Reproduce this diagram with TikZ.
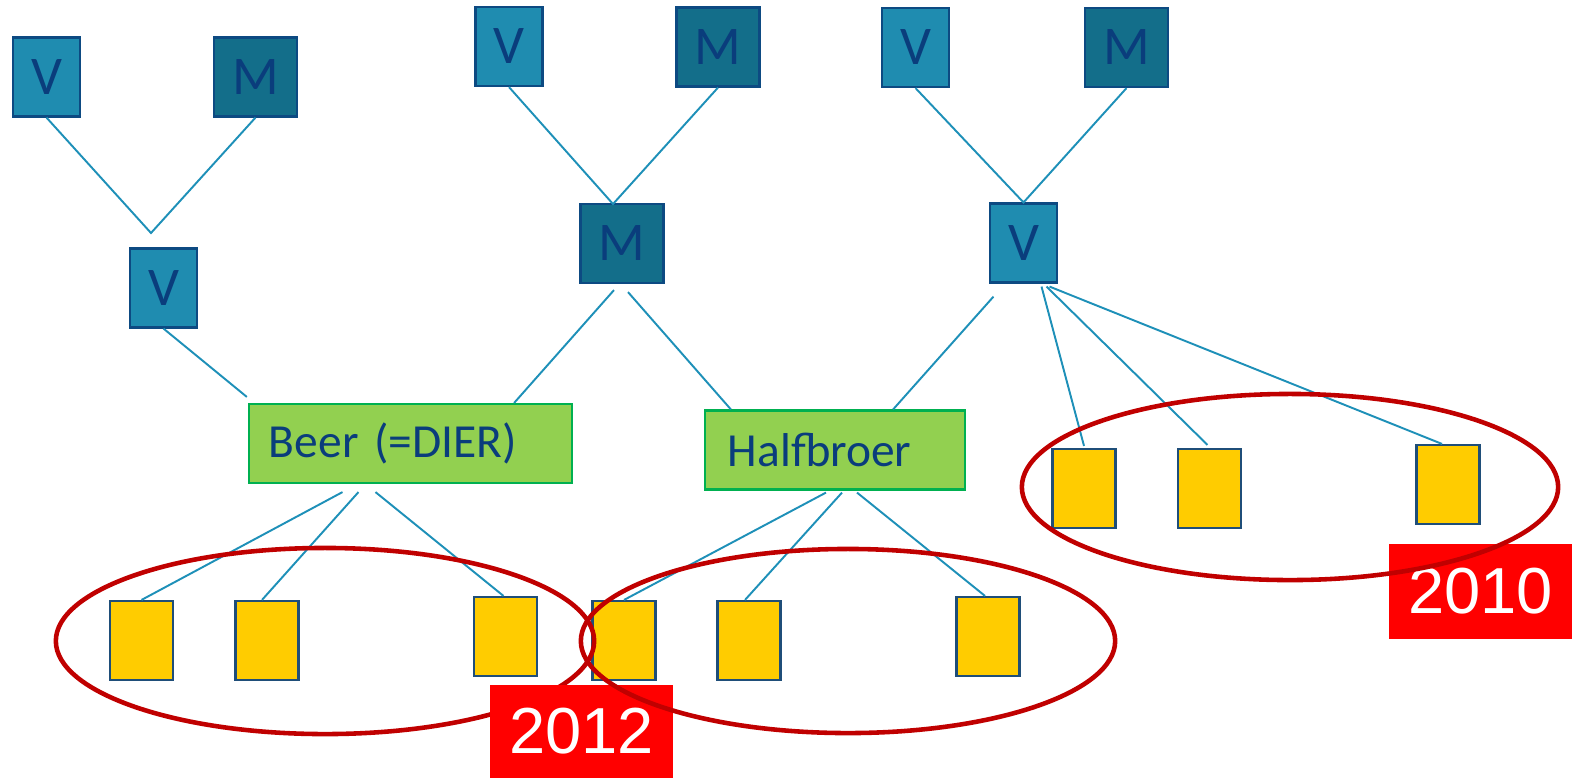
\documentclass[tikz,border=0pt]{standalone}
\usepackage{fontspec}
\setmainfont{Carlito}
\newfontfamily\yearfont{Liberation Sans}
\definecolor{vblue}{HTML}{1F8CB0}
\definecolor{mblue}{HTML}{136E8A}
\definecolor{edgeblue}{HTML}{0D4A82}
\definecolor{textblue}{HTML}{0A3D7C}
\definecolor{linkblue}{HTML}{1E90B8}
\definecolor{kidgreen}{HTML}{92D050}
\definecolor{kidborder}{HTML}{00B050}
\definecolor{pupyellow}{HTML}{FFCC00}
\definecolor{pupborder}{HTML}{1F4E79}
\definecolor{ringred}{HTML}{C00000}

\begin{document}
\begin{tikzpicture}[x=0.01cm,y=-0.01cm,
  dog/.style={draw=edgeblue,line width=0.6pt,text=textblue,inner sep=0pt,
    minimum height=0.79cm,font=\fontsize{15.5}{18}\selectfont},
  male/.style={dog,fill=vblue,minimum width=0.67cm},
  female/.style={dog,fill=mblue,minimum width=0.83cm},
  litter/.style={draw=kidborder,fill=kidgreen,text=textblue,line width=0.6pt,
    minimum height=0.79cm,inner ysep=0pt,align=left,font=\fontsize{13.5}{16}\selectfont},
  pup/.style={draw=pupborder,fill=pupyellow,line width=0.6pt,inner sep=0pt,
    minimum width=0.63cm,minimum height=0.79cm},
  link/.style={linkblue,line width=0.55pt},
  ring/.style={ringred,line width=1.3pt},
  year/.style={fill=red,text=white,inner sep=0pt,minimum width=1.83cm,minimum height=0.93cm,
    font=\yearfont\fontsize{18.5}{21}\selectfont}]
\useasboundingbox (0,0) rectangle (1579,778);

% parents
\node at (46.5,77)[male] (v1) {V};
\node at (255.5,77)[female] (m1) {M};
\node at (163.5,288)[male] (v2) {V};
\node at (509,46.5)[male] (v3) {V};
\node at (718,47)[female] (m2) {M};
\node at (622,243.5)[female] (m3) {M};
\node at (915.5,47.5)[male] (v4) {V};
\node at (1126.5,47.5)[female] (m4) {M};
\node at (1023.5,243)[male] (v5) {V};
\coordinate (j1) at (151,233);
\coordinate (j2) at (613,204);

% litters
\node at (410.5,443.5)[litter,text width=2.83cm,inner xsep=0.2cm] (beer) {Beer (=DIER)};
\node at (835,450)[litter,text width=2.14cm,inner xsep=0.23cm] (half) {Halfbroer};

% pups
\node at (141.5,640.5)[pup] (b1) {};
\node at (267,640.5)[pup] (b2) {};
\node at (505.5,636.5)[pup] (b3) {};
\node at (624,640.5)[pup] (h1) {};
\node at (749,640.5)[pup] (h2) {};
\node at (988,636.5)[pup] (h3) {};
\node at (1084,488.5)[pup] (g1) {};
\node at (1209.5,488.5)[pup] (g2) {};
\node at (1448,484.5)[pup] (g3) {};

% lines
\draw[link] (v1.south) -- (j1) -- (m1.south);
\draw[link] (v3.south) -- (j2) -- (m2.south);
\draw[link] (v4.south) -- (v5.north) -- (m4.south);
\draw[link] (v2.south) -- ([xshift=-0.01cm,yshift=0.06cm]beer.north west);
\draw[link] ([xshift=-0.08cm,yshift=-0.06cm]m3.south) -- ([xshift=-0.59cm]beer.north east);
\draw[link] ([xshift=0.06cm,yshift=-0.08cm]m3.south) -- ([xshift=0.27cm]half.north west);
\draw[link] ([xshift=-0.30cm,yshift=-0.13cm]v5.south) -- ([xshift=-0.73cm]half.north east);
\draw[link] ([xshift=0.18cm,yshift=-0.03cm]v5.south) -- ([yshift=0.02cm]g1.north);
\draw[link] ([xshift=0.23cm,yshift=-0.03cm]v5.south) -- ([xshift=-0.02cm,yshift=0.03cm]g2.north);
\draw[link] ([xshift=0.26cm,yshift=-0.03cm]v5.south) -- ([xshift=-0.06cm]g3.north);
\draw[link] ([xshift=-0.68cm,yshift=-0.08cm]beer.south) -- (b1.north);
\draw[link] ([xshift=-0.52cm,yshift=-0.08cm]beer.south) -- ([xshift=-0.05cm]b2.north);
\draw[link] ([xshift=-0.35cm,yshift=-0.08cm]beer.south) -- ([xshift=-0.02cm]b3.north);
\draw[link] ([xshift=-0.09cm,yshift=-0.02cm]half.south) -- (h1.north);
\draw[link] ([xshift=0.07cm,yshift=-0.02cm]half.south) -- ([xshift=-0.04cm]h2.north);
\draw[link] ([xshift=0.22cm,yshift=-0.02cm]half.south) -- ([xshift=-0.03cm]h3.north);

% years
\draw[ring] (325,641) ellipse [x radius=2.69cm, y radius=0.93cm];
\node at (581.5,731.5)[year] (y2012) {2012};
\draw[ring] (848,641) ellipse [x radius=2.67cm, y radius=0.92cm];
\node at (1480.5,591.5)[year,minimum height=0.95cm] (y2010) {2010};
\draw[ring] (1290,487) ellipse [x radius=2.68cm, y radius=0.93cm];
\end{tikzpicture}
\end{document}
